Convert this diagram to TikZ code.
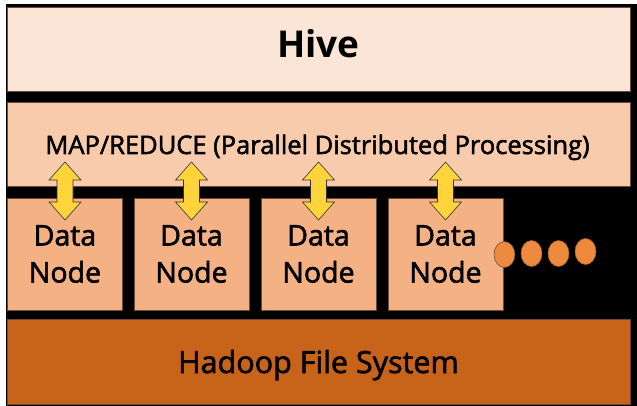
\documentclass[tikz,border=0pt]{standalone}
\usepackage{fontspec}
\setmainfont{Open Sans}
\newfontfamily\medfont{Open Sans}[FakeBold=2]
\definecolor{hivec}{HTML}{FBE5D6}
\definecolor{mrc}{HTML}{F8CBAD}
\definecolor{dnc}{HTML}{F4B183}
\definecolor{hdc}{HTML}{C8631A}
\definecolor{arrc}{HTML}{FFD43B}
\definecolor{dotc}{HTML}{EE8A3E}
\definecolor{edgec}{HTML}{6B4A35}
\tikzset{
  layer/.style={draw=edgec, line width=0.6pt, inner sep=0pt, outer sep=0pt},
  lbl/.style={anchor=base, inner sep=0pt, text=black},
  dnbox/.style={layer, fill=dnc, minimum width=115pt, minimum height=112pt,
     align=center, font=\medfont\fontsize{28.5}{37}\selectfont},
  dualarrow/.style={fill=arrc, draw=black!80, line width=0.6pt, line join=miter},
  dot/.style={ellipse, fill=dotc, draw=dotc!70!black, line width=0.5pt, minimum width=21pt, minimum height=26pt, inner sep=0pt}
}
\usetikzlibrary{shapes.geometric}
\begin{document}
\begin{tikzpicture}[x=1pt,y=-1pt]
\useasboundingbox (0,0) rectangle (637,406);
\fill[white] (0,0) rectangle (637,406);
\fill[black] (6,4) rectangle (637,406);
% layers
\node[layer, fill=hivec, minimum width=623pt, minimum height=84pt] (hive) at (318.5,49) {};
\node[layer, fill=mrc, minimum width=623pt, minimum height=84pt] (mr) at (318.5,144) {};
\node[layer, fill=hdc, minimum width=623pt, minimum height=85pt] (hdfs) at (318.5,361.5) {};
% texts
\node[lbl, font=\bfseries\fontsize{37}{42}\selectfont] (hivet) at (318.5,57.5) {Hive};
\node[lbl, font=\medfont\fontsize{25.5}{30}\selectfont] (mrt) at (317.5,154) {MAP/REDUCE (Parallel Distributed Processing)};
\node[lbl, font=\medfont\fontsize{30.5}{36}\selectfont] (hdfst) at (318.5,373) {Hadoop File System};
% data nodes
\node[dnbox] (dn1) at (65,254) {Data\\Node};
\node[dnbox] (dn2) at (191.5,254) {Data\\Node};
\node[dnbox] (dn3) at (318.5,254) {Data\\Node};
\node[dnbox] (dn4) at (445.5,254) {Data\\Node};
% arrows
\foreach \cx in {65,191.5,318.5,445.5}{
  \draw[dualarrow] (\cx,162) -- (\cx+16,180) -- (\cx+8,180) -- (\cx+8,202) -- (\cx+16,202)
    -- (\cx,220) -- (\cx-16,202) -- (\cx-8,202) -- (\cx-8,180) -- (\cx-16,180) -- cycle;
}
% dots
\node[dot, draw=black!70] (d1) at (504.5,254.5) {};
\node[dot] (d2) at (531.5,253.5) {};
\node[dot] (d3) at (558.5,253.5) {};
\node[dot] (d4) at (585.5,251.5) {};
\end{tikzpicture}
\end{document}
